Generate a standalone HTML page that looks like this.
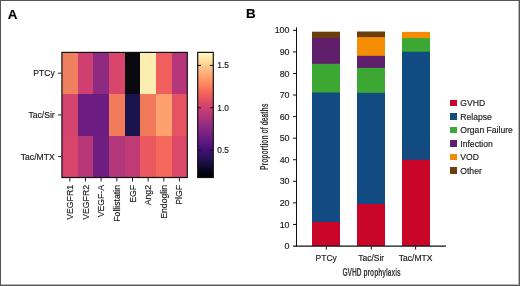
<!DOCTYPE html>
<html><head><meta charset="utf-8">
<style>
html,body{margin:0;padding:0;background:#fff;}
body{width:520px;height:286px;overflow:hidden;position:relative;}
svg{position:absolute;left:0;top:0;display:block;}
text{font-family:"Liberation Sans",sans-serif;fill:#1a1a1a;stroke:#1a1a1a;stroke-width:0.16px;}
svg{will-change:transform;}
</style></head><body>
<svg width="520" height="286" viewBox="0 0 520 286">
<defs>
<linearGradient id="mg" x1="0" y1="0" x2="0" y2="1">
<stop offset="0.00" stop-color="#fcfdbf"/> <stop offset="0.05" stop-color="#fde7a9"/> <stop offset="0.10" stop-color="#fecf92"/> <stop offset="0.15" stop-color="#feb77e"/> <stop offset="0.20" stop-color="#fe9f6d"/> <stop offset="0.25" stop-color="#fc8961"/> <stop offset="0.30" stop-color="#f7705c"/> <stop offset="0.35" stop-color="#ed5a5f"/> <stop offset="0.40" stop-color="#de4968"/> <stop offset="0.45" stop-color="#ca3e72"/> <stop offset="0.50" stop-color="#b73779"/> <stop offset="0.55" stop-color="#a1307e"/> <stop offset="0.60" stop-color="#8c2981"/> <stop offset="0.65" stop-color="#782281"/> <stop offset="0.70" stop-color="#641a80"/> <stop offset="0.75" stop-color="#51127c"/> <stop offset="0.80" stop-color="#3b0f70"/> <stop offset="0.85" stop-color="#251255"/> <stop offset="0.90" stop-color="#140e36"/> <stop offset="0.95" stop-color="#06051a"/> <stop offset="1.00" stop-color="#000004"/>
</linearGradient>
</defs>
<!-- outer border -->
<rect x="0.5" y="0.5" width="519" height="285" fill="none" stroke="#555" stroke-width="1"/>
<line x1="518.5" y1="1" x2="518.5" y2="285" stroke="#b8b8b8" stroke-width="1"/>
<line x1="1" y1="284.5" x2="518" y2="284.5" stroke="#b8b8b8" stroke-width="1"/>

<!-- Panel labels -->
<text x="7.7" y="18.6" font-size="13.4" font-weight="bold" style="fill:#000">A</text>
<text x="245.9" y="18.1" font-size="13.4" font-weight="bold" style="fill:#000">B</text>

<!-- ===== Heatmap ===== -->
<g shape-rendering="crispEdges">
<!-- row 1 -->
<rect x="62" y="52.4" width="15.7" height="41.7" fill="#ee8060"/>
<rect x="77.66" y="52.4" width="15.7" height="41.7" fill="#cf4070"/>
<rect x="93.32" y="52.4" width="15.7" height="41.7" fill="#8e2a81"/>
<rect x="108.98" y="52.4" width="15.7" height="41.7" fill="#d9466b"/>
<rect x="124.64" y="52.4" width="15.7" height="41.7" fill="#0a0910"/>
<rect x="140.3" y="52.4" width="15.7" height="41.7" fill="#fceeb0"/>
<rect x="155.96" y="52.4" width="15.7" height="41.7" fill="#f05f5e"/>
<rect x="171.62" y="52.4" width="15.7" height="41.7" fill="#b5367a"/>
<!-- row 2 -->
<rect x="62" y="94.1" width="15.7" height="41.7" fill="#d5446d"/>
<rect x="77.66" y="94.1" width="15.7" height="41.7" fill="#6b1d81"/>
<rect x="93.32" y="94.1" width="15.7" height="41.7" fill="#6b1d81"/>
<rect x="108.98" y="94.1" width="15.7" height="41.7" fill="#f07c5c"/>
<rect x="124.64" y="94.1" width="15.7" height="41.7" fill="#1b144c"/>
<rect x="140.3" y="94.1" width="15.7" height="41.7" fill="#f17a5a"/>
<rect x="155.96" y="94.1" width="15.7" height="41.7" fill="#fea16e"/>
<rect x="171.62" y="94.1" width="15.7" height="41.7" fill="#e85362"/>
<!-- row 3 -->
<rect x="62" y="135.8" width="15.7" height="41.7" fill="#d8456c"/>
<rect x="77.66" y="135.8" width="15.7" height="41.7" fill="#b73779"/>
<rect x="93.32" y="135.8" width="15.7" height="41.7" fill="#6e1e81"/>
<rect x="108.98" y="135.8" width="15.7" height="41.7" fill="#b3367a"/>
<rect x="124.64" y="135.8" width="15.7" height="41.7" fill="#c03a76"/>
<rect x="140.3" y="135.8" width="15.7" height="41.7" fill="#ec5860"/>
<rect x="155.96" y="135.8" width="15.7" height="41.7" fill="#f4695c"/>
<rect x="171.62" y="135.8" width="15.7" height="41.7" fill="#dc4869"/>
</g>
<rect x="61.9" y="52.4" width="125.4" height="125.1" fill="none" stroke="#111" stroke-width="1.2"/>
<!-- heatmap y ticks -->
<g stroke="#222" stroke-width="1">
<line x1="58" y1="73.2" x2="61.3" y2="73.2"/>
<line x1="58" y1="114.9" x2="61.3" y2="114.9"/>
<line x1="58" y1="156.6" x2="61.3" y2="156.6"/>
</g>
<g font-size="8.6" text-anchor="end">
<text x="54.7" y="76.3">PTCy</text>
<text x="54.7" y="118.0">Tac/Sir</text>
<text x="54.7" y="159.7">Tac/MTX</text>
</g>
<!-- heatmap x ticks -->
<g stroke="#222" stroke-width="1">
<line x1="69.8" y1="178" x2="69.8" y2="181.5"/>
<line x1="85.5" y1="178" x2="85.5" y2="181.5"/>
<line x1="101.1" y1="178" x2="101.1" y2="181.5"/>
<line x1="116.8" y1="178" x2="116.8" y2="181.5"/>
<line x1="132.5" y1="178" x2="132.5" y2="181.5"/>
<line x1="148.1" y1="178" x2="148.1" y2="181.5"/>
<line x1="163.8" y1="178" x2="163.8" y2="181.5"/>
<line x1="179.4" y1="178" x2="179.4" y2="181.5"/>
</g>
<g font-size="8.7" text-anchor="end">
<text transform="translate(72.8,185) rotate(-90)">VEGFR1</text>
<text transform="translate(88.5,185) rotate(-90)">VEGFR2</text>
<text transform="translate(104.1,185) rotate(-90)">VEGF-A</text>
<text transform="translate(119.8,185) rotate(-90)">Follistatin</text>
<text transform="translate(135.5,185) rotate(-90)">EGF</text>
<text transform="translate(151.1,185) rotate(-90)">Ang2</text>
<text transform="translate(166.8,185) rotate(-90)">Endoglin</text>
<text transform="translate(182.4,185) rotate(-90)">PlGF</text>
</g>

<!-- colorbar -->
<rect x="197.7" y="52.4" width="15.6" height="125.1" fill="url(#mg)"/>
<rect x="197.7" y="52.4" width="15.6" height="125.1" fill="none" stroke="#111" stroke-width="1.2"/>
<g stroke="#111" stroke-width="1">
<line x1="197.7" y1="65.4" x2="201" y2="65.4"/><line x1="210" y1="65.4" x2="213.3" y2="65.4"/>
<line x1="197.7" y1="107.8" x2="201" y2="107.8"/><line x1="210" y1="107.8" x2="213.3" y2="107.8"/>
<line x1="197.7" y1="150.3" x2="201" y2="150.3"/><line x1="210" y1="150.3" x2="213.3" y2="150.3"/>
</g>
<g font-size="8.4">
<text x="217.3" y="68.3">1.5</text>
<text x="217.3" y="110.7">1.0</text>
<text x="217.3" y="153.2">0.5</text>
</g>

<!-- ===== Bar chart ===== -->
<g>
<rect x="312" y="31.70" width="28" height="214.30" fill="#6c3e0c"/>
<rect x="312" y="37.90" width="28" height="208.10" fill="#5f1f6b"/>
<rect x="312" y="63.80" width="28" height="182.20" fill="#3ca833"/>
<rect x="312" y="92.50" width="28" height="153.50" fill="#124a82"/>
<rect x="312" y="222.00" width="28" height="24.00" fill="#c9062a"/>
<rect x="357" y="31.50" width="28" height="214.50" fill="#6c3e0c"/>
<rect x="357" y="37.10" width="28" height="208.90" fill="#f58d04"/>
<rect x="357" y="55.80" width="28" height="190.20" fill="#5f1f6b"/>
<rect x="357" y="67.90" width="28" height="178.10" fill="#3ca833"/>
<rect x="357" y="92.80" width="28" height="153.20" fill="#124a82"/>
<rect x="357" y="204.00" width="28" height="42.00" fill="#c9062a"/>
<rect x="402" y="31.90" width="28" height="214.10" fill="#f58d04"/>
<rect x="402" y="38.10" width="28" height="207.90" fill="#3ca833"/>
<rect x="402" y="51.70" width="28" height="194.30" fill="#124a82"/>
<rect x="402" y="159.80" width="28" height="86.20" fill="#c9062a"/>
</g>
<g stroke="#111" fill="none">
<line x1="296.5" y1="27.3" x2="296.5" y2="246.6" stroke-width="1.05"/>
<line x1="293" y1="246.1" x2="446" y2="246.1" stroke-width="1.15"/>
<line x1="293" y1="224.44" x2="296.5" y2="224.44" stroke-width="1"/>
<line x1="293" y1="202.87" x2="296.5" y2="202.87" stroke-width="1"/>
<line x1="293" y1="181.31" x2="296.5" y2="181.31" stroke-width="1"/>
<line x1="293" y1="159.74" x2="296.5" y2="159.74" stroke-width="1"/>
<line x1="293" y1="138.18" x2="296.5" y2="138.18" stroke-width="1"/>
<line x1="293" y1="116.61" x2="296.5" y2="116.61" stroke-width="1"/>
<line x1="293" y1="95.05" x2="296.5" y2="95.05" stroke-width="1"/>
<line x1="293" y1="73.48" x2="296.5" y2="73.48" stroke-width="1"/>
<line x1="293" y1="51.92" x2="296.5" y2="51.92" stroke-width="1"/>
<line x1="293" y1="30.35" x2="296.5" y2="30.35" stroke-width="1"/>
<line x1="326.3" y1="246.5" x2="326.3" y2="249.6" stroke-width="1"/>
<line x1="371.3" y1="246.5" x2="371.3" y2="249.6" stroke-width="1"/>
<line x1="415.6" y1="246.5" x2="415.6" y2="249.6" stroke-width="1"/>
</g>
<g font-size="8.9" text-anchor="end">
<text x="289.5" y="249.10">0</text>
<text x="289.5" y="227.53">10</text>
<text x="289.5" y="205.97">20</text>
<text x="289.5" y="184.41">30</text>
<text x="289.5" y="162.84">40</text>
<text x="289.5" y="141.28">50</text>
<text x="289.5" y="119.71">60</text>
<text x="289.5" y="98.15">70</text>
<text x="289.5" y="76.58">80</text>
<text x="289.5" y="55.02">90</text>
<text x="289.5" y="33.45">100</text>
</g>
<g font-size="8.5" text-anchor="middle">
<text x="326.2" y="260.6">PTCy</text>
<text x="371.2" y="260.6">Tac/Sir</text>
<text x="415.6" y="260.6">Tac/MTX</text>
</g>
<text font-size="10.2" font-weight="bold" x="342.4" y="275.7" textLength="58.4" lengthAdjust="spacingAndGlyphs" style="stroke-width:0;fill:#333">GVHD prophylaxis</text>
<text font-size="10.4" font-weight="bold" transform="translate(268.3,170) rotate(-90)" x="0" y="0" textLength="66.4" lengthAdjust="spacingAndGlyphs" style="stroke-width:0;fill:#333">Proportion of deaths</text>

<!-- legend -->
<g shape-rendering="crispEdges">
<rect x="450" y="100" width="6.6" height="6.4" fill="#c9062a"/>
<rect x="450" y="113.4" width="6.6" height="6.4" fill="#124a82"/>
<rect x="450" y="126.9" width="6.6" height="6.4" fill="#3ca833"/>
<rect x="450" y="140.3" width="6.6" height="6.4" fill="#5f1f6b"/>
<rect x="450" y="153.8" width="6.6" height="6.4" fill="#f58d04"/>
<rect x="450" y="167.2" width="6.6" height="6.4" fill="#6c3e0c"/>
</g>
<g font-size="8.6">
<text x="460.3" y="106.3">GVHD</text>
<text x="460.3" y="119.7">Relapse</text>
<text x="460.3" y="133.2">Organ Failure</text>
<text x="460.3" y="146.6">Infection</text>
<text x="460.3" y="160.1">VOD</text>
<text x="460.3" y="173.5">Other</text>
</g>
</svg>
</body></html>
